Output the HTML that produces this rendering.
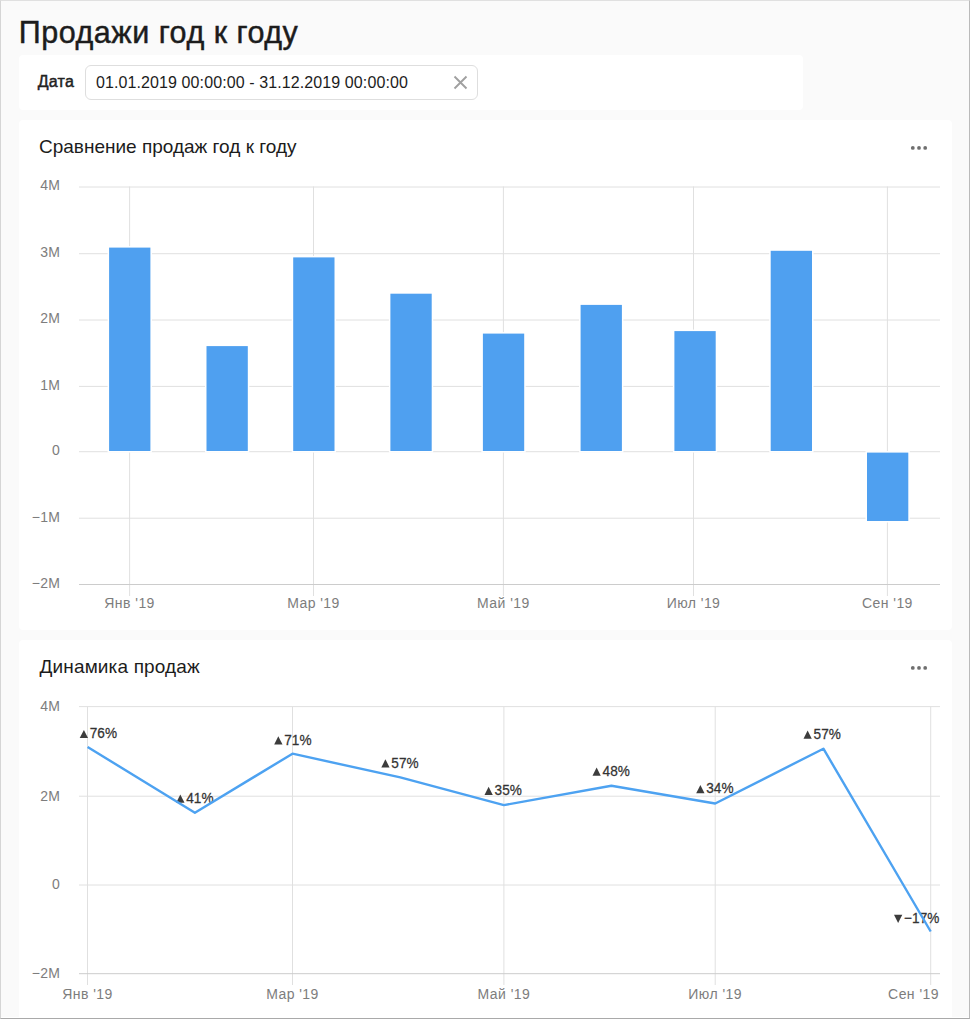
<!DOCTYPE html>
<html><head><meta charset="utf-8">
<style>
html,body{margin:0;padding:0;}
body{width:970px;height:1019px;position:relative;overflow:hidden;background:#fafafa;font-family:"Liberation Sans",sans-serif;}
.frame{position:absolute;z-index:5;left:0;top:0;width:968px;height:1017px;border-left:1px solid #d5d5d5;border-top:1px solid #e0e0e0;border-right:1px solid #bababa;border-bottom:1px solid #a9a9a9;}
.card{position:absolute;background:#fff;border-radius:4px;}
.inp{position:absolute;left:85px;top:65px;width:391px;height:33px;border:1px solid #dedede;border-radius:6px;background:#fff;}
svg{position:absolute;left:0;top:0;}
</style></head><body>
<div class="frame"></div>
<div class="card" style="left:19px;top:55px;width:784px;height:55px;"></div>
<div class="inp"></div>
<div class="card" style="left:19px;top:120px;width:933px;height:510px;"></div>
<div class="card" style="left:19px;top:640px;width:933px;height:400px;"></div>

<svg width="970" height="1019" viewBox="0 0 970 1019" font-family="&quot;Liberation Sans&quot;, sans-serif">
<text x="18.8" y="42.8" font-size="30.5" fill="#1c1c1c" stroke="#1c1c1c" stroke-width="0.45" letter-spacing="0.5">Продажи год к году</text>
<text x="37.8" y="87" font-size="16" fill="#222" stroke="#222" stroke-width="0.45" letter-spacing="0.2">Дата</text>
<text x="96" y="88" font-size="16" fill="#1c1c1c" letter-spacing="0.1">01.01.2019 00:00:00 - 31.12.2019 00:00:00</text>
<text x="39" y="153" font-size="19" fill="#1c1c1c">Сравнение продаж год к году</text>
<text x="39.5" y="673" font-size="19" fill="#1c1c1c" letter-spacing="0.15">Динамика продаж</text>
<path d="M454.5 76.5 L466.5 88.5 M466.5 76.5 L454.5 88.5" stroke="#a0a0a0" stroke-width="1.9" fill="none"/>
<circle cx="912.8" cy="147.9" r="1.9" fill="#6f6f6f"/>
<circle cx="919" cy="147.9" r="1.9" fill="#6f6f6f"/>
<circle cx="925.2" cy="147.9" r="1.9" fill="#6f6f6f"/>
<circle cx="912.8" cy="667.9" r="1.9" fill="#6f6f6f"/>
<circle cx="919" cy="667.9" r="1.9" fill="#6f6f6f"/>
<circle cx="925.2" cy="667.9" r="1.9" fill="#6f6f6f"/>
<line x1="129.6" x2="129.6" y1="186.5" y2="596" stroke="#e0e0e0" stroke-width="1"/>
<text x="129.6" y="608" text-anchor="middle" font-size="14" fill="#7d7d7d" letter-spacing="0.45">Янв '19</text>
<line x1="313.5" x2="313.5" y1="186.5" y2="596" stroke="#e0e0e0" stroke-width="1"/>
<text x="313.5" y="608" text-anchor="middle" font-size="14" fill="#7d7d7d" letter-spacing="0.45">Мар '19</text>
<line x1="503.4" x2="503.4" y1="186.5" y2="596" stroke="#e0e0e0" stroke-width="1"/>
<text x="503.4" y="608" text-anchor="middle" font-size="14" fill="#7d7d7d" letter-spacing="0.45">Май '19</text>
<line x1="693.5" x2="693.5" y1="186.5" y2="596" stroke="#e0e0e0" stroke-width="1"/>
<text x="693.5" y="608" text-anchor="middle" font-size="14" fill="#7d7d7d" letter-spacing="0.45">Июл '19</text>
<line x1="887.4" x2="887.4" y1="186.5" y2="596" stroke="#e0e0e0" stroke-width="1"/>
<text x="887.4" y="608" text-anchor="middle" font-size="14" fill="#7d7d7d" letter-spacing="0.45">Сен '19</text>
<line x1="79" x2="940" y1="187.0" y2="187.0" stroke="#e0e0e0" stroke-width="1"/>
<text x="60" y="190.4" text-anchor="end" font-size="14" fill="#7d7d7d" letter-spacing="0.2">4M</text>
<line x1="79" x2="940" y1="253.7" y2="253.7" stroke="#e0e0e0" stroke-width="1"/>
<text x="60" y="257.1" text-anchor="end" font-size="14" fill="#7d7d7d" letter-spacing="0.2">3M</text>
<line x1="79" x2="940" y1="320.0" y2="320.0" stroke="#e0e0e0" stroke-width="1"/>
<text x="60" y="323.4" text-anchor="end" font-size="14" fill="#7d7d7d" letter-spacing="0.2">2M</text>
<line x1="79" x2="940" y1="386.4" y2="386.4" stroke="#e0e0e0" stroke-width="1"/>
<text x="60" y="389.8" text-anchor="end" font-size="14" fill="#7d7d7d" letter-spacing="0.2">1M</text>
<line x1="79" x2="940" y1="451.7" y2="451.7" stroke="#e0e0e0" stroke-width="1"/>
<text x="60" y="455.1" text-anchor="end" font-size="14" fill="#7d7d7d" letter-spacing="0.2">0</text>
<line x1="79" x2="940" y1="518.2" y2="518.2" stroke="#e0e0e0" stroke-width="1"/>
<text x="60" y="521.6" text-anchor="end" font-size="14" fill="#7d7d7d" letter-spacing="0.2">−1M</text>
<line x1="79" x2="940" y1="584.5" y2="584.5" stroke="#cccccc" stroke-width="1"/>
<text x="60" y="587.9" text-anchor="end" font-size="14" fill="#7d7d7d" letter-spacing="0.2">−2M</text>
<rect x="107.6" y="246.1" width="44.3" height="206.4" fill="#fff"/>
<rect x="109.1" y="247.6" width="41.3" height="203.4" fill="#4fa0f0"/>
<rect x="205.0" y="344.6" width="44.3" height="107.9" fill="#fff"/>
<rect x="206.5" y="346.1" width="41.3" height="104.9" fill="#4fa0f0"/>
<rect x="291.7" y="255.89999999999998" width="44.3" height="196.6" fill="#fff"/>
<rect x="293.2" y="257.4" width="41.3" height="193.6" fill="#4fa0f0"/>
<rect x="388.9" y="292.2" width="44.3" height="160.3" fill="#fff"/>
<rect x="390.4" y="293.7" width="41.3" height="157.3" fill="#4fa0f0"/>
<rect x="481.4" y="332.1" width="44.3" height="120.4" fill="#fff"/>
<rect x="482.9" y="333.6" width="41.3" height="117.4" fill="#4fa0f0"/>
<rect x="579.1" y="303.4" width="44.3" height="149.1" fill="#fff"/>
<rect x="580.6" y="304.9" width="41.3" height="146.1" fill="#4fa0f0"/>
<rect x="672.9" y="329.6" width="44.3" height="122.9" fill="#fff"/>
<rect x="674.4" y="331.1" width="41.3" height="119.9" fill="#4fa0f0"/>
<rect x="769.2" y="249.3" width="44.3" height="203.2" fill="#fff"/>
<rect x="770.7" y="250.8" width="41.3" height="200.2" fill="#4fa0f0"/>
<rect x="865.5" y="451.1" width="44.3" height="71.4" fill="#fff"/>
<rect x="867" y="452.6" width="41.3" height="68.4" fill="#4fa0f0"/>
<line x1="87.5" x2="87.5" y1="706.5" y2="985" stroke="#e0e0e0" stroke-width="1"/>
<text x="87.5" y="998.5" text-anchor="middle" font-size="14" fill="#7d7d7d" letter-spacing="0.45">Янв '19</text>
<line x1="292.5" x2="292.5" y1="706.5" y2="985" stroke="#e0e0e0" stroke-width="1"/>
<text x="292.5" y="998.5" text-anchor="middle" font-size="14" fill="#7d7d7d" letter-spacing="0.45">Мар '19</text>
<line x1="503.9" x2="503.9" y1="706.5" y2="985" stroke="#e0e0e0" stroke-width="1"/>
<text x="503.9" y="998.5" text-anchor="middle" font-size="14" fill="#7d7d7d" letter-spacing="0.45">Май '19</text>
<line x1="715.2" x2="715.2" y1="706.5" y2="985" stroke="#e0e0e0" stroke-width="1"/>
<text x="715.2" y="998.5" text-anchor="middle" font-size="14" fill="#7d7d7d" letter-spacing="0.45">Июл '19</text>
<line x1="930.7" x2="930.7" y1="706.5" y2="985" stroke="#e0e0e0" stroke-width="1"/>
<text x="939" y="998.5" text-anchor="end" font-size="14" fill="#7d7d7d" letter-spacing="0.45">Сен '19</text>
<line x1="79" x2="940" y1="706.6" y2="706.6" stroke="#e0e0e0" stroke-width="1"/>
<text x="60" y="710.9" text-anchor="end" font-size="14" fill="#7d7d7d" letter-spacing="0.2">4M</text>
<line x1="79" x2="940" y1="796.2" y2="796.2" stroke="#e0e0e0" stroke-width="1"/>
<text x="60" y="800.5" text-anchor="end" font-size="14" fill="#7d7d7d" letter-spacing="0.2">2M</text>
<line x1="79" x2="940" y1="885.0" y2="885.0" stroke="#e0e0e0" stroke-width="1"/>
<text x="60" y="889.3" text-anchor="end" font-size="14" fill="#7d7d7d" letter-spacing="0.2">0</text>
<line x1="79" x2="940" y1="973.7" y2="973.7" stroke="#cccccc" stroke-width="1"/>
<text x="60" y="978.0" text-anchor="end" font-size="14" fill="#7d7d7d" letter-spacing="0.2">−2M</text>
<path d="M79.7 738.1 L88.0 738.1 L83.9 729.9 Z" fill="#3c3c3c"/>
<text transform="translate(89.7,738.2) scale(1,1.08)" x="0" y="0" font-size="13.6" fill="#333" stroke="#333" stroke-width="0.25" letter-spacing="0.1">76%</text>
<path d="M176.2 802.8 L184.5 802.8 L180.3 794.6 Z" fill="#3c3c3c"/>
<text transform="translate(186.2,802.9) scale(1,1.08)" x="0" y="0" font-size="13.6" fill="#333" stroke="#333" stroke-width="0.25" letter-spacing="0.1">41%</text>
<path d="M274.2 744.4 L282.5 744.4 L278.3 736.2 Z" fill="#3c3c3c"/>
<text transform="translate(284.2,744.5) scale(1,1.08)" x="0" y="0" font-size="13.6" fill="#333" stroke="#333" stroke-width="0.25" letter-spacing="0.1">71%</text>
<path d="M381.3 767.5 L389.6 767.5 L385.4 759.3 Z" fill="#3c3c3c"/>
<text transform="translate(391.3,767.6) scale(1,1.08)" x="0" y="0" font-size="13.6" fill="#333" stroke="#333" stroke-width="0.25" letter-spacing="0.1">57%</text>
<path d="M484.5 794.9 L492.8 794.9 L488.6 786.7 Z" fill="#3c3c3c"/>
<text transform="translate(494.5,795.0) scale(1,1.08)" x="0" y="0" font-size="13.6" fill="#333" stroke="#333" stroke-width="0.25" letter-spacing="0.1">35%</text>
<path d="M592.5 775.8 L600.8 775.8 L596.6 767.6 Z" fill="#3c3c3c"/>
<text transform="translate(602.5,775.9) scale(1,1.08)" x="0" y="0" font-size="13.6" fill="#333" stroke="#333" stroke-width="0.25" letter-spacing="0.1">48%</text>
<path d="M696.2 793.3 L704.5 793.3 L700.4 785.1 Z" fill="#3c3c3c"/>
<text transform="translate(706.2,793.4) scale(1,1.08)" x="0" y="0" font-size="13.6" fill="#333" stroke="#333" stroke-width="0.25" letter-spacing="0.1">34%</text>
<path d="M803.5 738.8 L811.8 738.8 L807.6 730.6 Z" fill="#3c3c3c"/>
<text transform="translate(813.5,738.9) scale(1,1.08)" x="0" y="0" font-size="13.6" fill="#333" stroke="#333" stroke-width="0.25" letter-spacing="0.1">57%</text>
<path d="M894.0 914.8 L902.3 914.8 L898.1 923.0 Z" fill="#3c3c3c"/>
<text transform="translate(904.0,923.1) scale(1,1.08)" x="0" y="0" font-size="13.6" fill="#333" stroke="#333" stroke-width="0.25" letter-spacing="0.1">−17%</text>
<polyline fill="none" stroke="#4da2f1" stroke-width="2.4" stroke-linejoin="round" points="87.6,747.0 194.9,812.7 292.5,753.7 400.3,777.4 503.9,805.1 611.4,785.7 715.2,803.5 823.4,748.7 930.7,931.5"/>
</svg>
<div style="position:absolute;left:1px;top:1017px;width:968px;height:1px;background:#fff;z-index:4"></div>
</body></html>
